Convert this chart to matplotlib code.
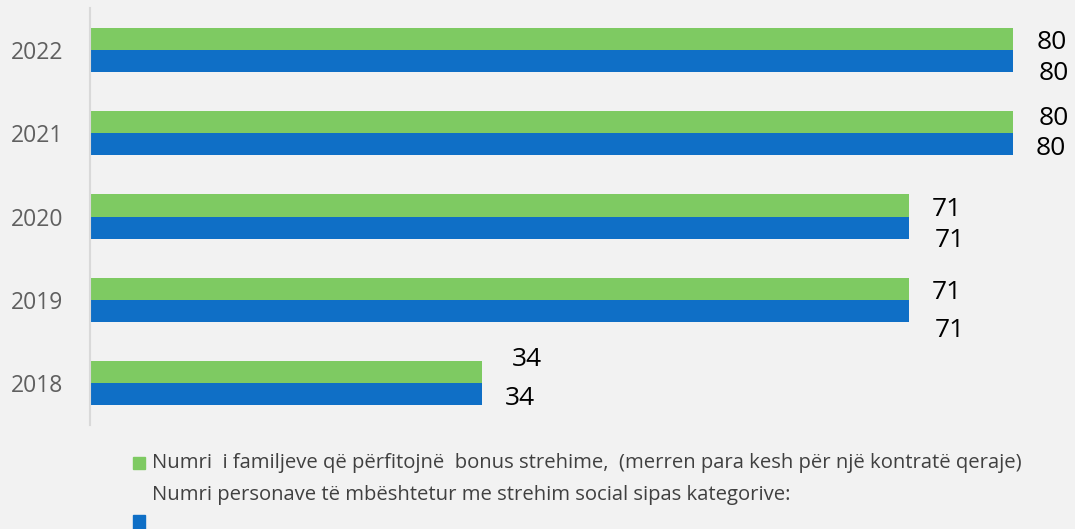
import matplotlib
matplotlib.use('Agg')
import matplotlib.pyplot as plt
from matplotlib.patches import Rectangle

years = ['2018', '2019', '2020', '2021', '2022']
bonus_familje = [34, 71, 71, 80, 80]
strehim_social = [34, 71, 71, 80, 80]
label_bonus = 'Numri  i familjeve që përfitojnë  bonus strehime,  (merren para kesh për një kontratë qeraje)'
label_social = 'Numri personave të mbështetur me strehim social sipas kategorive:'

GREEN = '#7ECA62'
BLUE = '#0F6FC6'
BG = '#F2F2F2'

# label nudges in pixels (x, y) - the original labels were placed by hand
green_nudge = [(7, 16), (0, -1), (0, -1), (3, 7), (1, -1)]
blue_nudge = [(0, -1), (3, -17), (3, -10), (0, -1), (3, -10)]

plt.rcParams['font.family'] = ['Open Sans', 'DejaVu Sans']

fig = plt.figure(figsize=(10.75, 5.29), dpi=100, facecolor=BG)
ax = fig.add_axes([90 / 1075, 1 - 425 / 529, 985 / 1075, 417 / 529])
ax.set_facecolor(BG)

h = 0.264
ypos = list(range(len(years)))
gb = ax.barh([y + h / 2 for y in ypos], bonus_familje, height=h, color=GREEN)
bb = ax.barh([y - h / 2 for y in ypos], strehim_social, height=h, color=BLUE)

for bars, vals, nudges in ((gb, bonus_familje, green_nudge), (bb, strehim_social, blue_nudge)):
    for rect, v, (dx, dy) in zip(bars, vals, nudges):
        ax.annotate(str(v), (rect.get_width(), rect.get_y() + rect.get_height() / 2),
                    xytext=(16.5 + dx * 0.72, (dy - 3) * 0.72), textcoords='offset points',
                    ha='left', va='center', fontsize=19, color='black')

ax.set_xlim(0, 985 / (923 / 80))
ax.set_ylim(-0.5, 4.5)
ax.set_yticks(ypos)
ax.set_yticklabels(years)
ax.tick_params(axis='y', length=0, pad=19, labelsize=16.5, labelcolor='#606060')
ax.tick_params(axis='x', bottom=False, labelbottom=False)
for s in ('top', 'right', 'bottom'):
    ax.spines[s].set_visible(False)
ax.spines['left'].set_color('#D9D9D9')
ax.spines['left'].set_linewidth(1.5)

# legend drawn by hand to match the wrapped layout
W, H = 1075, 529
fig.patches.append(Rectangle((133 / W, 1 - 469 / H), 12 / W, 12 / H, transform=fig.transFigure,
                             color=GREEN))
fig.patches.append(Rectangle((133 / W, 1 - 529 / H), 12 / W, 14 / H, transform=fig.transFigure,
                             color=BLUE))
fig.text(152 / W, 1 - 463 / H, label_bonus, ha='left', va='center', fontsize=14.6,
         color='#404040')
fig.text(152 / W, 1 - 495 / H, label_social, ha='left', va='center', fontsize=14.6,
         color='#404040')

fig.savefig('out.png', dpi=100, facecolor=BG)
